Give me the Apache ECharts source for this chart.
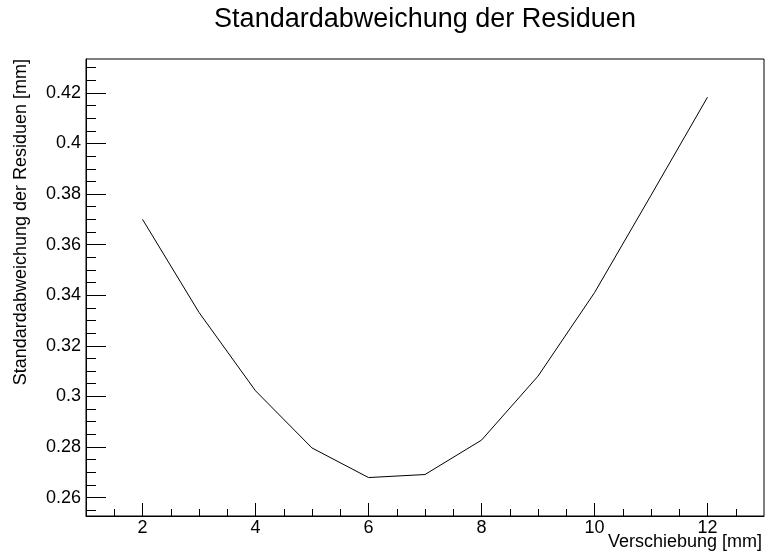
<!DOCTYPE html>
<html>
<head>
<meta charset="utf-8">
<title>Standardabweichung der Residuen</title>
<script src="https://cdn.jsdelivr.net/npm/echarts@6/dist/echarts.min.js"></script>
<style>
  html, body { margin: 0; padding: 0; background: #fff; }
  #chart { width: 765px; height: 556px; }
</style>
</head>
<body>
<div id="chart"></div>
<script>
// Verschiebung [mm]
const shifts = [2, 3, 4, 5, 6, 7, 8, 9, 10, 11, 12];
// Standardabweichung der Residuen [mm]
const stdDev = [0.370, 0.3332, 0.3022, 0.2796, 0.2679, 0.2691, 0.2827, 0.308, 0.341, 0.3795, 0.4183];

const xMajorTicks = [2, 4, 6, 8, 10, 12];
const xMinorTicks = [1.5, 2.5, 3, 3.5, 4.5, 5, 5.5, 6.5, 7, 7.5, 8.5, 9, 9.5, 10.5, 11, 11.5, 12.5];
const yMajorTicks = [0.26, 0.28, 0.3, 0.32, 0.34, 0.36, 0.38, 0.4, 0.42];
const yMinorTicks = [0.255, 0.265, 0.27, 0.275, 0.285, 0.29, 0.295, 0.305, 0.31, 0.315,
  0.325, 0.33, 0.335, 0.345, 0.35, 0.355, 0.365, 0.37, 0.375, 0.385, 0.39, 0.395,
  0.405, 0.41, 0.415, 0.425, 0.43];

const titleText = 'Standardabweichung der Residuen';
const xTitle = 'Verschiebung [mm]';
const yTitle = 'Standardabweichung der Residuen [mm]';

const FONT = '"Liberation Sans", Arial, Helvetica, sans-serif';

const chart = echarts.init(document.getElementById('chart'), null, { renderer: 'canvas' });

const lineBlack = { color: '#000', width: 1 };

function axisBase(min, max) {
  return {
    type: 'value', min: min, max: max,
    splitLine: { show: false },
    axisLine: { show: true, onZero: false, lineStyle: lineBlack }
  };
}

chart.setOption({
  animation: false,
  backgroundColor: '#fff',
  grid: {
    left: 86, right: 1, top: 59, bottom: 40,
    show: true, borderColor: '#000', borderWidth: 1, backgroundColor: 'transparent'
  },
  xAxis: [
    // major ticks and labels
    Object.assign(axisBase(1, 13), {
      position: 'bottom',
      axisTick: { show: true, inside: true, length: 13, customValues: xMajorTicks, lineStyle: lineBlack },
      axisLabel: {
        show: true, customValues: xMajorTicks, margin: 3,
        color: '#000', fontSize: 18, fontFamily: FONT
      }
    }),
    // minor ticks
    Object.assign(axisBase(1, 13), {
      position: 'bottom',
      axisLine: { show: false, onZero: false },
      axisTick: { show: true, inside: true, length: 7, customValues: xMinorTicks, lineStyle: lineBlack },
      axisLabel: { show: false }
    })
  ],
  yAxis: [
    Object.assign(axisBase(0.2527, 0.4334), {
      position: 'left',
      axisTick: { show: true, inside: true, length: 20, customValues: yMajorTicks, lineStyle: lineBlack },
      axisLabel: {
        show: true, customValues: yMajorTicks, margin: 5,
        color: '#000', fontSize: 18, fontFamily: FONT,
        formatter: v => String(+v.toFixed(3))
      }
    }),
    Object.assign(axisBase(0.2527, 0.4334), {
      position: 'left',
      axisLine: { show: false, onZero: false },
      axisTick: { show: true, inside: true, length: 10, customValues: yMinorTicks, lineStyle: lineBlack },
      axisLabel: { show: false }
    })
  ],
  series: [{
    type: 'line',
    xAxisIndex: 0, yAxisIndex: 0,
    data: shifts.map((x, i) => [x, stdDev[i]]),
    showSymbol: false,
    lineStyle: { color: '#000', width: 1 },
    silent: true
  }],
  graphic: [
    {
      type: 'text', x: 425, y: 20,
      style: { text: titleText, fill: '#000', font: '27px ' + FONT, textAlign: 'center', textVerticalAlign: 'middle' }
    },
    {
      type: 'text', x: 762, y: 542,
      style: { text: xTitle, fill: '#000', font: '18px ' + FONT, textAlign: 'right', textVerticalAlign: 'middle' }
    },
    {
      type: 'text', x: 21, y: 59, rotation: Math.PI / 2,
      style: { text: yTitle, fill: '#000', font: '18px ' + FONT, textAlign: 'right', textVerticalAlign: 'middle' }
    }
  ]
});
</script>
</body>
</html>
